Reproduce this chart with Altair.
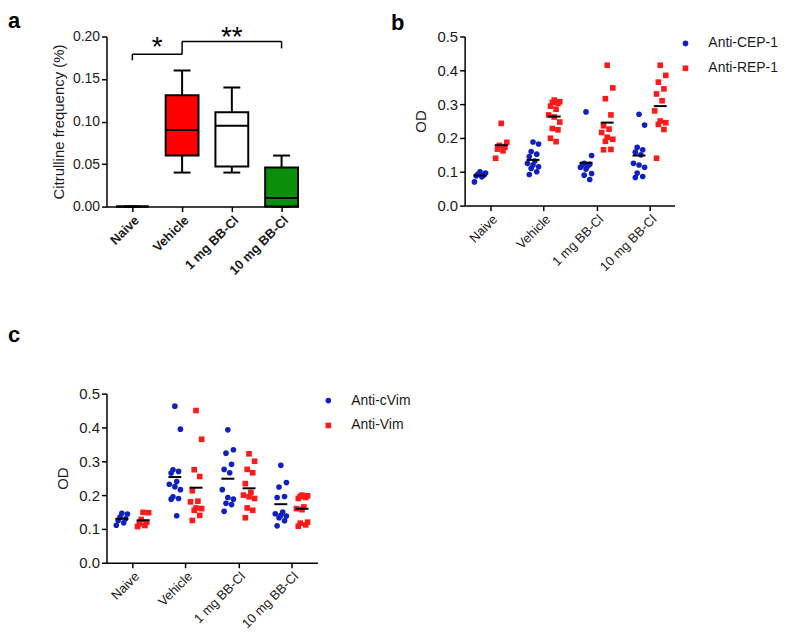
import json
import altair as alt
import pandas as pd

categories = ["Naive", "Vehicle", "1 mg BB-Cl", "10 mg BB-Cl"]

# ---------------- panel a : citrulline frequency box plots ----------------
box_low = [0.000, 0.040, 0.040, 0.000]
box_q1 = [0.000, 0.060, 0.047, 0.000]
box_median = [0.000, 0.090, 0.095, 0.010]
box_q3 = [0.000, 0.131, 0.111, 0.046]
box_high = [0.000, 0.160, 0.140, 0.060]

# significance brackets (x in category index units, y in data units)
bracket_x1 = [0, 0, 1, 1, 3]
bracket_x2 = [1, 0, 3, 1, 3]
bracket_y1 = [0.179, 0.179, 0.194, 0.194, 0.194]
bracket_y2 = [0.179, 0.172, 0.194, 0.179, 0.186]
star_labels = ["*", "**"]
star_x = [0.5, 2.0]
star_y = [0.186, 0.198]

# ---------------- panel b : anti-CEP-1 / anti-REP-1 OD ----------------
b_series = ["Anti-CEP-1", "Anti-REP-1"]
b_cep_naive = [0.100, 0.096, 0.093, 0.090, 0.088, 0.085, 0.070]
b_cep_vehicle = [0.188, 0.182, 0.160, 0.152, 0.145, 0.132, 0.125, 0.120, 0.115, 0.110, 0.100, 0.092]
b_cep_1mg = [0.277, 0.148, 0.125, 0.122, 0.120, 0.117, 0.113, 0.108, 0.095, 0.090, 0.077]
b_cep_10mg = [0.270, 0.238, 0.172, 0.165, 0.158, 0.150, 0.125, 0.120, 0.113, 0.096, 0.086, 0.083]
b_rep_naive = [0.243, 0.187, 0.178, 0.172, 0.167, 0.162, 0.140]
b_rep_vehicle = [0.312, 0.307, 0.305, 0.302, 0.294, 0.285, 0.268, 0.262, 0.247, 0.228, 0.224, 0.199, 0.189]
b_rep_1mg = [0.415, 0.348, 0.316, 0.268, 0.236, 0.226, 0.216, 0.202, 0.196, 0.190, 0.166, 0.165]
b_rep_10mg = [0.415, 0.385, 0.365, 0.345, 0.330, 0.310, 0.280, 0.250, 0.245, 0.240, 0.225, 0.140]

# ---------------- panel c : anti-cVim / anti-Vim OD ----------------
c_series = ["Anti-cVim", "Anti-Vim"]
c_cvim_naive = [0.146, 0.144, 0.135, 0.130, 0.125, 0.118, 0.111]
c_cvim_vehicle = [0.463, 0.395, 0.275, 0.270, 0.265, 0.240, 0.232, 0.225, 0.216, 0.195, 0.190, 0.188, 0.139]
c_cvim_1mg = [0.393, 0.334, 0.324, 0.291, 0.276, 0.266, 0.216, 0.193, 0.188, 0.176, 0.172, 0.152]
c_cvim_10mg = [0.288, 0.237, 0.224, 0.196, 0.193, 0.150, 0.145, 0.140, 0.138, 0.133, 0.124, 0.109]
c_vim_naive = [0.149, 0.148, 0.128, 0.120, 0.115, 0.110, 0.107]
c_vim_vehicle = [0.450, 0.365, 0.275, 0.255, 0.213, 0.182, 0.180, 0.162, 0.160, 0.155, 0.140, 0.125]
c_vim_1mg = [0.322, 0.300, 0.276, 0.266, 0.234, 0.208, 0.200, 0.195, 0.190, 0.162, 0.155, 0.133]
c_vim_10mg = [0.200, 0.198, 0.196, 0.193, 0.190, 0.165, 0.160, 0.157, 0.120, 0.117, 0.112, 0.108]

BLUE = "#1020c0"
RED = "#ff1a1a"
FONT = "Liberation Sans"

cats_js = json.dumps(categories)
idx_expr = f"indexof({cats_js}, datum.group)"
label_expr = f"{cats_js}[datum.value]"


def letter_title(letter, dx, offset):
    return alt.TitleParams(letter, anchor="start", frame="group", dx=dx, offset=offset,
                           fontSize=22, fontWeight="bold", font=FONT, color="black")


# ======================= panel a =======================
df_a = pd.DataFrame({"group": categories, "low": box_low, "q1": box_q1,
                     "median": box_median, "q3": box_q3, "high": box_high})
base_a = alt.Chart(df_a).transform_calculate(
    xi=idx_expr,
    xl="datum.xi - 0.33", xr="datum.xi + 0.33",
    cl="datum.xi - 0.17", cr="datum.xi + 0.17",
)
xs_a = alt.Scale(domain=[-0.52, 3.34], nice=False, zero=False)
ys_a = alt.Scale(domain=[0, 0.2], nice=False)
xax_a = alt.Axis(values=[0, 1, 2, 3], labelExpr=label_expr, labelAngle=-45,
                 labelFontWeight="bold", labelFontSize=13, title=None, labelOverlap=False)
yax_a = alt.Axis(values=[0, 0.05, 0.10, 0.15, 0.20], format=".2f",
                 title="Citrulline frequency (%)", labelFontSize=14,
                 titleFontSize=15, titleFontWeight="normal", titlePadding=6)


def XA(f):
    return alt.X(f, type="quantitative", scale=xs_a, axis=xax_a)


def YA(f):
    return alt.Y(f, type="quantitative", scale=ys_a, axis=yax_a)


whisk = base_a.mark_rule(color="black", strokeWidth=2).encode(
    x=XA("xi"), y=YA("low"), y2="high:Q")
cap_lo = base_a.mark_rule(color="black", strokeWidth=2).encode(
    x=XA("cl"), x2="cr:Q", y=YA("low"))
cap_hi = base_a.mark_rule(color="black", strokeWidth=2).encode(
    x=XA("cl"), x2="cr:Q", y=YA("high"))
boxes = base_a.mark_rect(stroke="black", strokeWidth=2).encode(
    x=XA("xl"), x2="xr:Q", y=YA("q1"), y2="q3:Q",
    fill=alt.Fill("group:N", scale=alt.Scale(domain=categories,
                  range=["#ffffff", "#ff0000", "#ffffff", "#0a8f0a"]), legend=None))
med = base_a.mark_rule(color="black", strokeWidth=2).encode(
    x=XA("xl"), x2="xr:Q", y=YA("median"))

df_br = pd.DataFrame({"x1": bracket_x1, "x2": bracket_x2, "y1": bracket_y1, "y2": bracket_y2})
brackets = alt.Chart(df_br).mark_rule(color="black", strokeWidth=1.5).encode(
    x=XA("x1"), x2="x2:Q", y=YA("y1"), y2="y2:Q")
df_st = pd.DataFrame({"label": star_labels, "sx": star_x, "sy": star_y})
stars = alt.Chart(df_st).mark_text(fontSize=28, baseline="middle", font=FONT, color="black").encode(
    x=XA("sx"), y=YA("sy"), text="label:N")

panel_a = alt.layer(whisk, cap_lo, cap_hi, boxes, med, brackets, stars).properties(
    width=193, height=171, title=letter_title("a", -99, -9))


# ======================= scatter panels =======================
def scatter_panel(series, groups_s1, groups_s2, domain, width, title):
    rows = []
    for s, groups in ((series[0], groups_s1), (series[1], groups_s2)):
        for g, vals in zip(categories, groups):
            for v in vals:
                rows.append({"group": g, "series": s, "value": v})
    df = pd.DataFrame(rows)
    base = alt.Chart(df).transform_window(
        k="row_number()", groupby=["group", "series"]
    ).transform_calculate(
        xc=f"{idx_expr} + (datum.series == '{series[0]}' ? -0.2 : 0.2)"
    ).transform_calculate(
        xj="datum.xc + ((datum.k * 3) % 7 - 3) * 0.035"
    )
    xs = alt.Scale(domain=domain, nice=False, zero=False)
    ys = alt.Scale(domain=[0, 0.5], nice=False)
    xax = alt.Axis(values=[0, 1, 2, 3], labelExpr=label_expr, labelAngle=-45,
                   labelFontSize=13, title=None, labelOverlap=False)
    yax = alt.Axis(values=[0, 0.1, 0.2, 0.3, 0.4, 0.5], format=".1f", title="OD",
                   labelFontSize=15, titleFontSize=15, titleFontWeight="normal",
                   titlePadding=8)
    leg = alt.Legend(title=None, orient="right", offset=4, labelFontSize=14,
                     symbolSize=32, rowPadding=11, labelOffset=16, padding=0)
    pts = base.mark_point(filled=True, opacity=1, size=32).encode(
        x=alt.X("xj:Q", scale=xs, axis=xax),
        y=alt.Y("value:Q", scale=ys, axis=yax),
        color=alt.Color("series:N", scale=alt.Scale(domain=series, range=[BLUE, RED]), legend=leg),
        shape=alt.Shape("series:N", scale=alt.Scale(domain=series, range=["circle", "square"]), legend=leg),
    )
    means = base.mark_tick(orient="horizontal", color="black", thickness=2, size=13).encode(
        x=alt.X("xc:Q", scale=xs, axis=xax),
        y=alt.Y("mean(value):Q", scale=ys, axis=yax),
    )
    return alt.layer(pts, means).properties(width=width, height=170, title=title)


panel_b = scatter_panel(
    b_series,
    [b_cep_naive, b_cep_vehicle, b_cep_1mg, b_cep_10mg],
    [b_rep_naive, b_rep_vehicle, b_rep_1mg, b_rep_10mg],
    [-0.49, 3.47], 211, letter_title("b", -74, -5))

panel_c = scatter_panel(
    c_series,
    [c_cvim_naive, c_cvim_vehicle, c_cvim_1mg, c_cvim_10mg],
    [c_vim_naive, c_vim_vehicle, c_vim_1mg, c_vim_10mg],
    [-0.49, 3.49], 212, letter_title("c", -99, 40))

chart = alt.concat(
    panel_a, panel_b, panel_c, columns=2, bounds="flush",
    spacing={"row": 188, "column": 148}
).resolve_scale(
    x="independent", y="independent", color="independent", shape="independent", fill="independent"
).resolve_legend(color="independent", shape="independent").properties(
    padding={"left": 0, "top": 0, "right": 0, "bottom": 0}
).configure(font=FONT).configure_axis(
    domainColor="black", domainWidth=1.5, tickColor="black", tickWidth=1.5, tickSize=5,
    labelColor="#1a1a1a", titleColor="#1a1a1a", grid=False, labelFont=FONT, titleFont=FONT,
    labelPadding=2
).configure_legend(labelFont=FONT, labelColor="#1a1a1a").configure_view(stroke=None)

chart.save("out.html", embed_options={"renderer": "svg", "actions": False})
